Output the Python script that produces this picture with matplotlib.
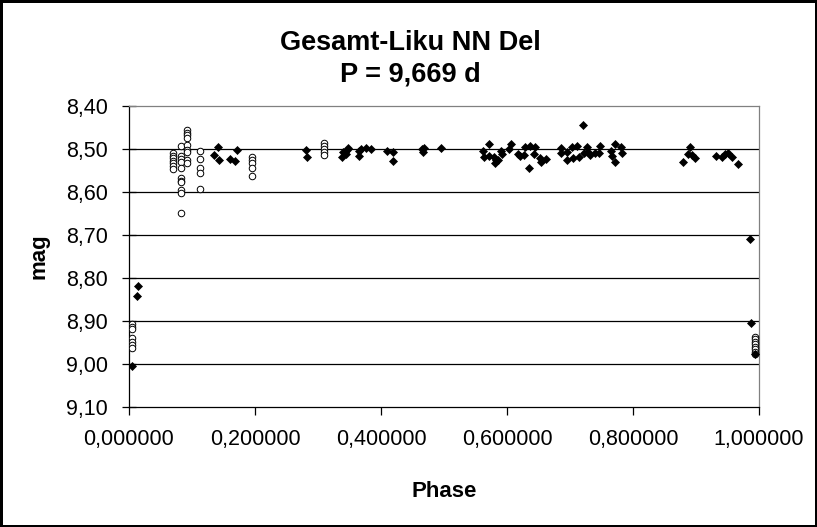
import numpy as np
import matplotlib.pyplot as plt
from matplotlib.ticker import FuncFormatter

# series 1: filled diamonds (phase, mag)
phase_a = [0.005, 0.013, 0.014,
           0.135, 0.141, 0.143, 0.160, 0.168, 0.171,
           0.281, 0.282, 0.338, 0.340, 0.343, 0.346, 0.348, 0.345,
           0.365, 0.365, 0.368, 0.376, 0.384, 0.410, 0.419, 0.419,
           0.465, 0.467, 0.468, 0.495,
           0.562, 0.563, 0.571, 0.571, 0.579, 0.582, 0.581, 0.586, 0.590, 0.592,
           0.603, 0.606, 0.617, 0.621, 0.627, 0.629, 0.635, 0.637, 0.644, 0.643,
           0.652, 0.654, 0.662, 0.686, 0.686, 0.695, 0.695, 0.703, 0.705, 0.711,
           0.714, 0.721, 0.722, 0.727, 0.729, 0.732, 0.740, 0.748, 0.746,
           0.765, 0.767, 0.771, 0.771, 0.781, 0.783,
           0.879, 0.887, 0.890, 0.894, 0.898,
           0.932, 0.941, 0.946, 0.951, 0.957, 0.967,
           0.986, 0.987, 0.994]
mag_a = [9.005, 8.842, 8.819,
         8.514, 8.495, 8.526, 8.523, 8.528, 8.502,
         8.502, 8.519, 8.519, 8.507, 8.507, 8.502, 8.498, 8.512,
         8.505, 8.516, 8.500, 8.498, 8.500, 8.505, 8.507, 8.528,
         8.500, 8.507, 8.498, 8.498,
         8.505, 8.519, 8.488, 8.516, 8.519, 8.526, 8.533, 8.526, 8.505, 8.512,
         8.500, 8.488, 8.512, 8.516, 8.514, 8.495, 8.544, 8.493, 8.495, 8.512,
         8.521, 8.530, 8.523, 8.498, 8.509, 8.507, 8.526, 8.495, 8.521, 8.493,
         8.519, 8.444, 8.509, 8.495, 8.507, 8.514, 8.509, 8.493, 8.509,
         8.505, 8.516, 8.488, 8.530, 8.495, 8.509,
         8.530, 8.512, 8.495, 8.514, 8.521,
         8.516, 8.519, 8.512, 8.509, 8.519, 8.535,
         8.709, 8.905, 8.977]

# series 2: open circles (phase, mag)
phase_b = [0.005] * 7 + [0.070] * 7 + [0.083] * 11 + [0.092] * 9 + \
          [0.113] * 5 + [0.195] * 5 + [0.310] * 5 + [0.994] * 8
mag_b = [8.907, 8.914, 8.919, 8.940, 8.949, 8.956, 8.963,
         8.509, 8.516, 8.521, 8.528, 8.533, 8.540, 8.547,
         8.493, 8.516, 8.523, 8.530, 8.544, 8.567, 8.574, 8.577, 8.595, 8.602, 8.649,
         8.456, 8.463, 8.467, 8.474, 8.491, 8.502, 8.507, 8.526, 8.533,
         8.505, 8.523, 8.544, 8.556, 8.593,
         8.519, 8.526, 8.533, 8.544, 8.563,
         8.486, 8.493, 8.500, 8.507, 8.514,
         8.937, 8.942, 8.949, 8.953, 8.960, 8.965, 8.972, 8.977]

y_ticks = [8.4, 8.5, 8.6, 8.7, 8.8, 8.9, 9.0, 9.1]
x_ticks = [0.0, 0.2, 0.4, 0.6, 0.8, 1.0]

plt.rcParams['font.family'] = ['Liberation Sans', 'DejaVu Sans']

fig = plt.figure(figsize=(8.17, 5.27), dpi=100)
fig.patch.set_facecolor('white')
fig.patch.set_edgecolor('black')
fig.patch.set_linewidth(2.5)
ax = fig.add_axes([129 / 817, 1 - 407 / 527, 630 / 817, 301 / 527])

for y in y_ticks[1:-1]:
    ax.axhline(y, color='black', lw=0.9, zorder=1)

ax.plot(phase_b, mag_b, ls='none', marker='o', ms=4.7, mfc='white',
        mec='black', mew=0.7, zorder=3)
ax.plot(phase_a, mag_a, ls='none', marker='D', ms=4.4, mfc='black',
        mec='black', mew=0.5, zorder=4)

ax.set_xlim(0, 1)
ax.set_ylim(9.1, 8.4)
ax.set_xticks(x_ticks)
ax.set_yticks(y_ticks)
ax.xaxis.set_major_formatter(FuncFormatter(lambda v, p: f"{v:.6f}".replace('.', ',')))
ax.yaxis.set_major_formatter(FuncFormatter(lambda v, p: f"{v:.2f}".replace('.', ',')))
ax.tick_params(axis='y', direction='inout', length=10, width=0.9, labelsize=15.5, pad=10)
ax.tick_params(axis='x', direction='out', length=6, width=0.9, labelsize=15.5, pad=10)

for s in ['left', 'bottom']:
    ax.spines[s].set_color('black')
    ax.spines[s].set_linewidth(0.9)
for s in ['top', 'right']:
    ax.spines[s].set_color('#808080')
    ax.spines[s].set_linewidth(0.9)

ax.set_xlabel('Phase', fontsize=16, fontweight='bold', labelpad=22)
ax.set_ylabel('mag', fontsize=16, fontweight='bold', labelpad=12)
fig.text(0.502, 1 - 43 / 527, 'Gesamt-Liku NN Del', ha='center', va='center',
         fontsize=19.5, fontweight='bold')
fig.text(0.502, 1 - 74 / 527, 'P = 9,669 d', ha='center', va='center',
         fontsize=19.5, fontweight='bold')

fig.savefig('out.png', dpi=100, edgecolor=fig.get_edgecolor())
